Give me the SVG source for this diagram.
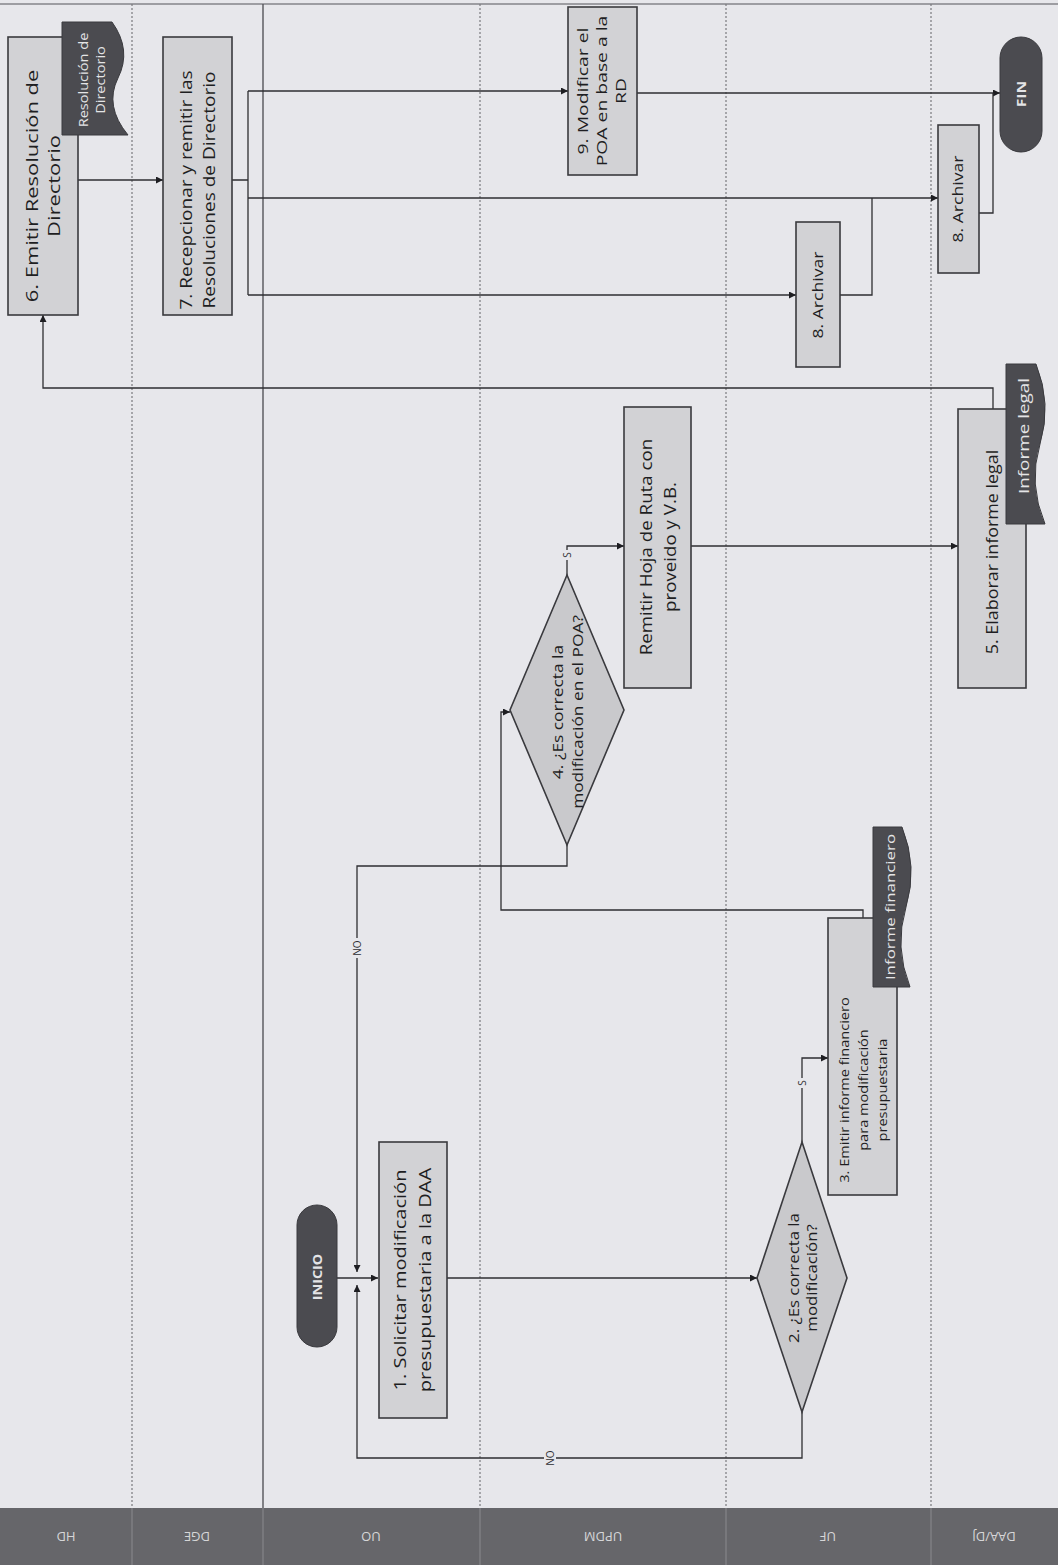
<svg xmlns="http://www.w3.org/2000/svg" width="1058" height="1565" viewBox="0 0 1058 1565">
<style>
  .bg{fill:#e7e7eb}
  .lane{stroke:#7a7a7e;stroke-width:1.2;stroke-dasharray:2 2;fill:none}
  .lane-solid{stroke:#55555a;stroke-width:1.4;fill:none}
  .hdr{fill:#66666a}
  .hdrline{stroke:#8a8a8e;stroke-width:1}
  .hdrtxt{font-family:"Open Sans","Liberation Sans",sans-serif;font-size:13px;fill:#d6d6d8}
  .box{fill:#d2d2d5;stroke:#3a3a3e;stroke-width:1.6}
  .dia{fill:#c9c9cc;stroke:#3a3a3e;stroke-width:1.6}
  .dark{fill:#4b4b50;stroke:#3a3a3e;stroke-width:1}
  .t{font-family:"Open Sans","Liberation Sans",sans-serif;fill:#1e1e22;text-anchor:middle}
  .tw{font-family:"Open Sans","Liberation Sans",sans-serif;fill:#e4e4e6;text-anchor:middle}
  .conn{fill:none;stroke:#2e2e32;stroke-width:1.3}
  .lbl{font-family:"Open Sans","Liberation Sans",sans-serif;font-size:10px;fill:#2e2e32;text-anchor:middle}
</style>
<defs>
  <marker id="arr" viewBox="0 0 10 10" refX="10" refY="5" markerWidth="7" markerHeight="7" orient="auto" markerUnits="userSpaceOnUse">
    <path d="M0,0 L10,5 L0,10 Z" fill="#1e1e22"/>
  </marker>
</defs>

<rect class="bg" x="0" y="0" width="1058" height="1565"/>
<line x1="0" y1="4" x2="1058" y2="4" stroke="#55555a" stroke-width="1.2"/>

<g id="lanes">
  <line class="lane" x1="132" y1="4" x2="132" y2="1508"/>
  <line class="lane-solid" x1="263" y1="4" x2="263" y2="1508"/>
  <line class="lane" x1="480" y1="4" x2="480" y2="1508"/>
  <line class="lane" x1="726" y1="4" x2="726" y2="1508"/>
  <line class="lane" x1="931" y1="4" x2="931" y2="1508"/>
  <rect class="hdr" x="0" y="1508" width="1058" height="57"/>
  <line class="hdrline" x1="132" y1="1508" x2="132" y2="1565"/>
  <line class="hdrline" x1="263" y1="1508" x2="263" y2="1565"/>
  <line class="hdrline" x1="480" y1="1508" x2="480" y2="1565"/>
  <line class="hdrline" x1="726" y1="1508" x2="726" y2="1565"/>
  <line class="hdrline" x1="931" y1="1508" x2="931" y2="1565"/>
  <text class="hdrtxt" text-anchor="middle" dominant-baseline="central" transform="translate(66,1537) rotate(180)">HD</text>
  <text class="hdrtxt" text-anchor="middle" dominant-baseline="central" transform="translate(197,1537) rotate(180)">DGE</text>
  <text class="hdrtxt" text-anchor="middle" dominant-baseline="central" transform="translate(371,1537) rotate(180)">UO</text>
  <text class="hdrtxt" text-anchor="middle" dominant-baseline="central" transform="translate(603,1537) rotate(180)">UPDM</text>
  <text class="hdrtxt" text-anchor="middle" dominant-baseline="central" transform="translate(828,1537) rotate(180)">UF</text>
  <text class="hdrtxt" text-anchor="middle" dominant-baseline="central" transform="translate(994,1537) rotate(180)">DAA/DJ</text>
</g>

<g id="connectors">
  <path class="conn" d="M337,1278 H378" marker-end="url(#arr)"/>
  <path class="conn" d="M447,1278 H757" marker-end="url(#arr)"/>
  <path class="conn" d="M802,1142 V1058 H828" marker-end="url(#arr)"/>
  <path class="conn" d="M802,1412 V1458 H357 V1285" marker-end="url(#arr)"/>
  <path class="conn" d="M863,918 V910 H501 V712 H510" marker-end="url(#arr)"/>
  <path class="conn" d="M567,845 V866 H357 V1272" marker-end="url(#arr)"/>
  <path class="conn" d="M567,575 V546 H624" marker-end="url(#arr)"/>
  <path class="conn" d="M691,546 H958" marker-end="url(#arr)"/>
  <path class="conn" d="M993,409 V388 H43 V315" marker-end="url(#arr)"/>
  <path class="conn" d="M78,180 H163" marker-end="url(#arr)"/>
  <path class="conn" d="M232,180 H248 M248,91 V295"/>
  <path class="conn" d="M248,91 H568" marker-end="url(#arr)"/>
  <path class="conn" d="M248,295 H796" marker-end="url(#arr)"/>
  <path class="conn" d="M248,198 H938" marker-end="url(#arr)"/>
  <path class="conn" d="M840,295 H872 V198"/>
  <path class="conn" d="M637,93 H1000" marker-end="url(#arr)"/>
  <path class="conn" d="M979,213 H993 V93"/>
  <rect x="796" y="1078" width="12" height="10" fill="#e7e7eb"/>
  <text class="lbl" dominant-baseline="central" transform="translate(802,1083) rotate(-90)">S</text>
  <rect x="561" y="550" width="12" height="10" fill="#e7e7eb"/>
  <text class="lbl" dominant-baseline="central" transform="translate(567,555) rotate(-90)">S</text>
  <rect x="351" y="938" width="12" height="20" fill="#e7e7eb"/>
  <text class="lbl" dominant-baseline="central" transform="translate(357,948) rotate(-90)">NO</text>
  <rect x="544" y="1448" width="12" height="20" fill="#e7e7eb"/>
  <text class="lbl" dominant-baseline="central" transform="translate(550,1458) rotate(-90)">NO</text>
</g>

<g id="inicio">
  <rect class="dark" x="297" y="1205" width="40" height="142" rx="20" ry="20"/>
  <text class="tw" font-size="12" font-weight="bold" dominant-baseline="central" transform="translate(317,1277) rotate(-90) scale(1.2,1)">INICIO</text>
</g>

<g id="n1">
  <rect class="box" x="379" y="1142" width="68" height="276"/>
  <text class="t" font-size="17" transform="translate(413,1280) rotate(-90) scale(1.18,1)"><tspan x="0" y="-7">1. Solicitar modificación</tspan><tspan x="0" y="18">presupuestaria a la DAA</tspan></text>
</g>

<g id="n2">
  <polygon class="dia" points="802,1142 847,1278 802,1412 757,1278"/>
  <text class="t" font-size="14" transform="translate(802,1278) rotate(-90) scale(1.2,1)"><tspan x="0" y="-3">2. ¿Es correcta la</tspan><tspan x="0" y="15">modificación?</tspan></text>
</g>

<g id="n3">
  <rect class="box" x="828" y="918" width="69" height="277"/>
  <text class="t" font-size="13" transform="translate(862,1090) rotate(-90) scale(1.12,1)"><tspan x="0" y="-13">3. Emitir informe financiero</tspan><tspan x="0" y="6">para modificación</tspan><tspan x="0" y="25">presupuestaria</tspan></text>
</g>

<g id="doc-financiero">
  <path class="dark" d="M873,827 H902 Q918,867 906,907 T910,987 H873 Z"/>
  <text class="tw" font-size="13" dominant-baseline="central" transform="translate(890,907) rotate(-90) scale(1.3,1)">Informe financiero</text>
</g>

<g id="n4">
  <polygon class="dia" points="567,575 624,710 567,845 510,710"/>
  <text class="t" font-size="14" transform="translate(567,712) rotate(-90) scale(1.24,1)"><tspan x="0" y="-4">4. ¿Es correcta la</tspan><tspan x="0" y="16">modificación en el POA?</tspan></text>
</g>

<g id="remitir">
  <rect class="box" x="624" y="407" width="67" height="281"/>
  <text class="t" font-size="16" transform="translate(658,547) rotate(-90) scale(1.17,1)"><tspan x="0" y="-6">Remitir Hoja de Ruta con</tspan><tspan x="0" y="18">proveido y V.B.</tspan></text>
</g>

<g id="n5">
  <rect class="box" x="958" y="409" width="68" height="279"/>
  <text class="t" font-size="16" dominant-baseline="central" transform="translate(992,552) rotate(-90) scale(1.12,1)">5. Elaborar informe legal</text>
</g>

<g id="doc-legal">
  <path class="dark" d="M1006,364 H1036 Q1052,404 1040,444 T1045,524 H1006 Z"/>
  <text class="tw" font-size="14" dominant-baseline="central" transform="translate(1024,436) rotate(-90) scale(1.35,1)">Informe legal</text>
</g>

<g id="n6">
  <rect class="box" x="8" y="37" width="70" height="278"/>
  <text class="t" font-size="17" transform="translate(44,186) rotate(-90) scale(1.29,1)"><tspan x="0" y="-6">6. Emitir Resolución de</tspan><tspan x="0" y="16">Directorio</tspan></text>
</g>

<g id="doc-resolucion">
  <path class="dark" d="M62,22 H112 Q132,50 118,78 T128,135 H62 Z"/>
  <text class="tw" font-size="13" transform="translate(91,80) rotate(-90) scale(1.12,1)"><tspan x="0" y="-3">Resolución de</tspan><tspan x="0" y="14">Directorio</tspan></text>
</g>

<g id="n7">
  <rect class="box" x="163" y="37" width="69" height="278"/>
  <text class="t" font-size="16" transform="translate(198,190) rotate(-90) scale(1.19,1)"><tspan x="0" y="-6">7. Recepcionar y remitir las</tspan><tspan x="0" y="17">Resoluciones de Directorio</tspan></text>
</g>

<g id="n9">
  <rect class="box" x="568" y="7" width="69" height="168"/>
  <text class="t" font-size="15" transform="translate(602,91) rotate(-90) scale(1.29,1)"><tspan x="0" y="-14">9. Modificar el</tspan><tspan x="0" y="5">POA en base a la</tspan><tspan x="0" y="24">RD</tspan></text>
</g>

<g id="n8a">
  <rect class="box" x="796" y="222" width="44" height="145"/>
  <text class="t" font-size="14" dominant-baseline="central" transform="translate(818,295) rotate(-90) scale(1.26,1)">8. Archivar</text>
</g>

<g id="n8b">
  <rect class="box" x="938" y="125" width="41" height="148"/>
  <text class="t" font-size="14" dominant-baseline="central" transform="translate(958,199) rotate(-90) scale(1.26,1)">8. Archivar</text>
</g>

<g id="fin">
  <rect class="dark" x="1000" y="37" width="42" height="115" rx="21" ry="21"/>
  <text class="tw" font-size="12" font-weight="bold" dominant-baseline="central" transform="translate(1021,94) rotate(-90) scale(1.3,1)">FIN</text>
</g>
</svg>
